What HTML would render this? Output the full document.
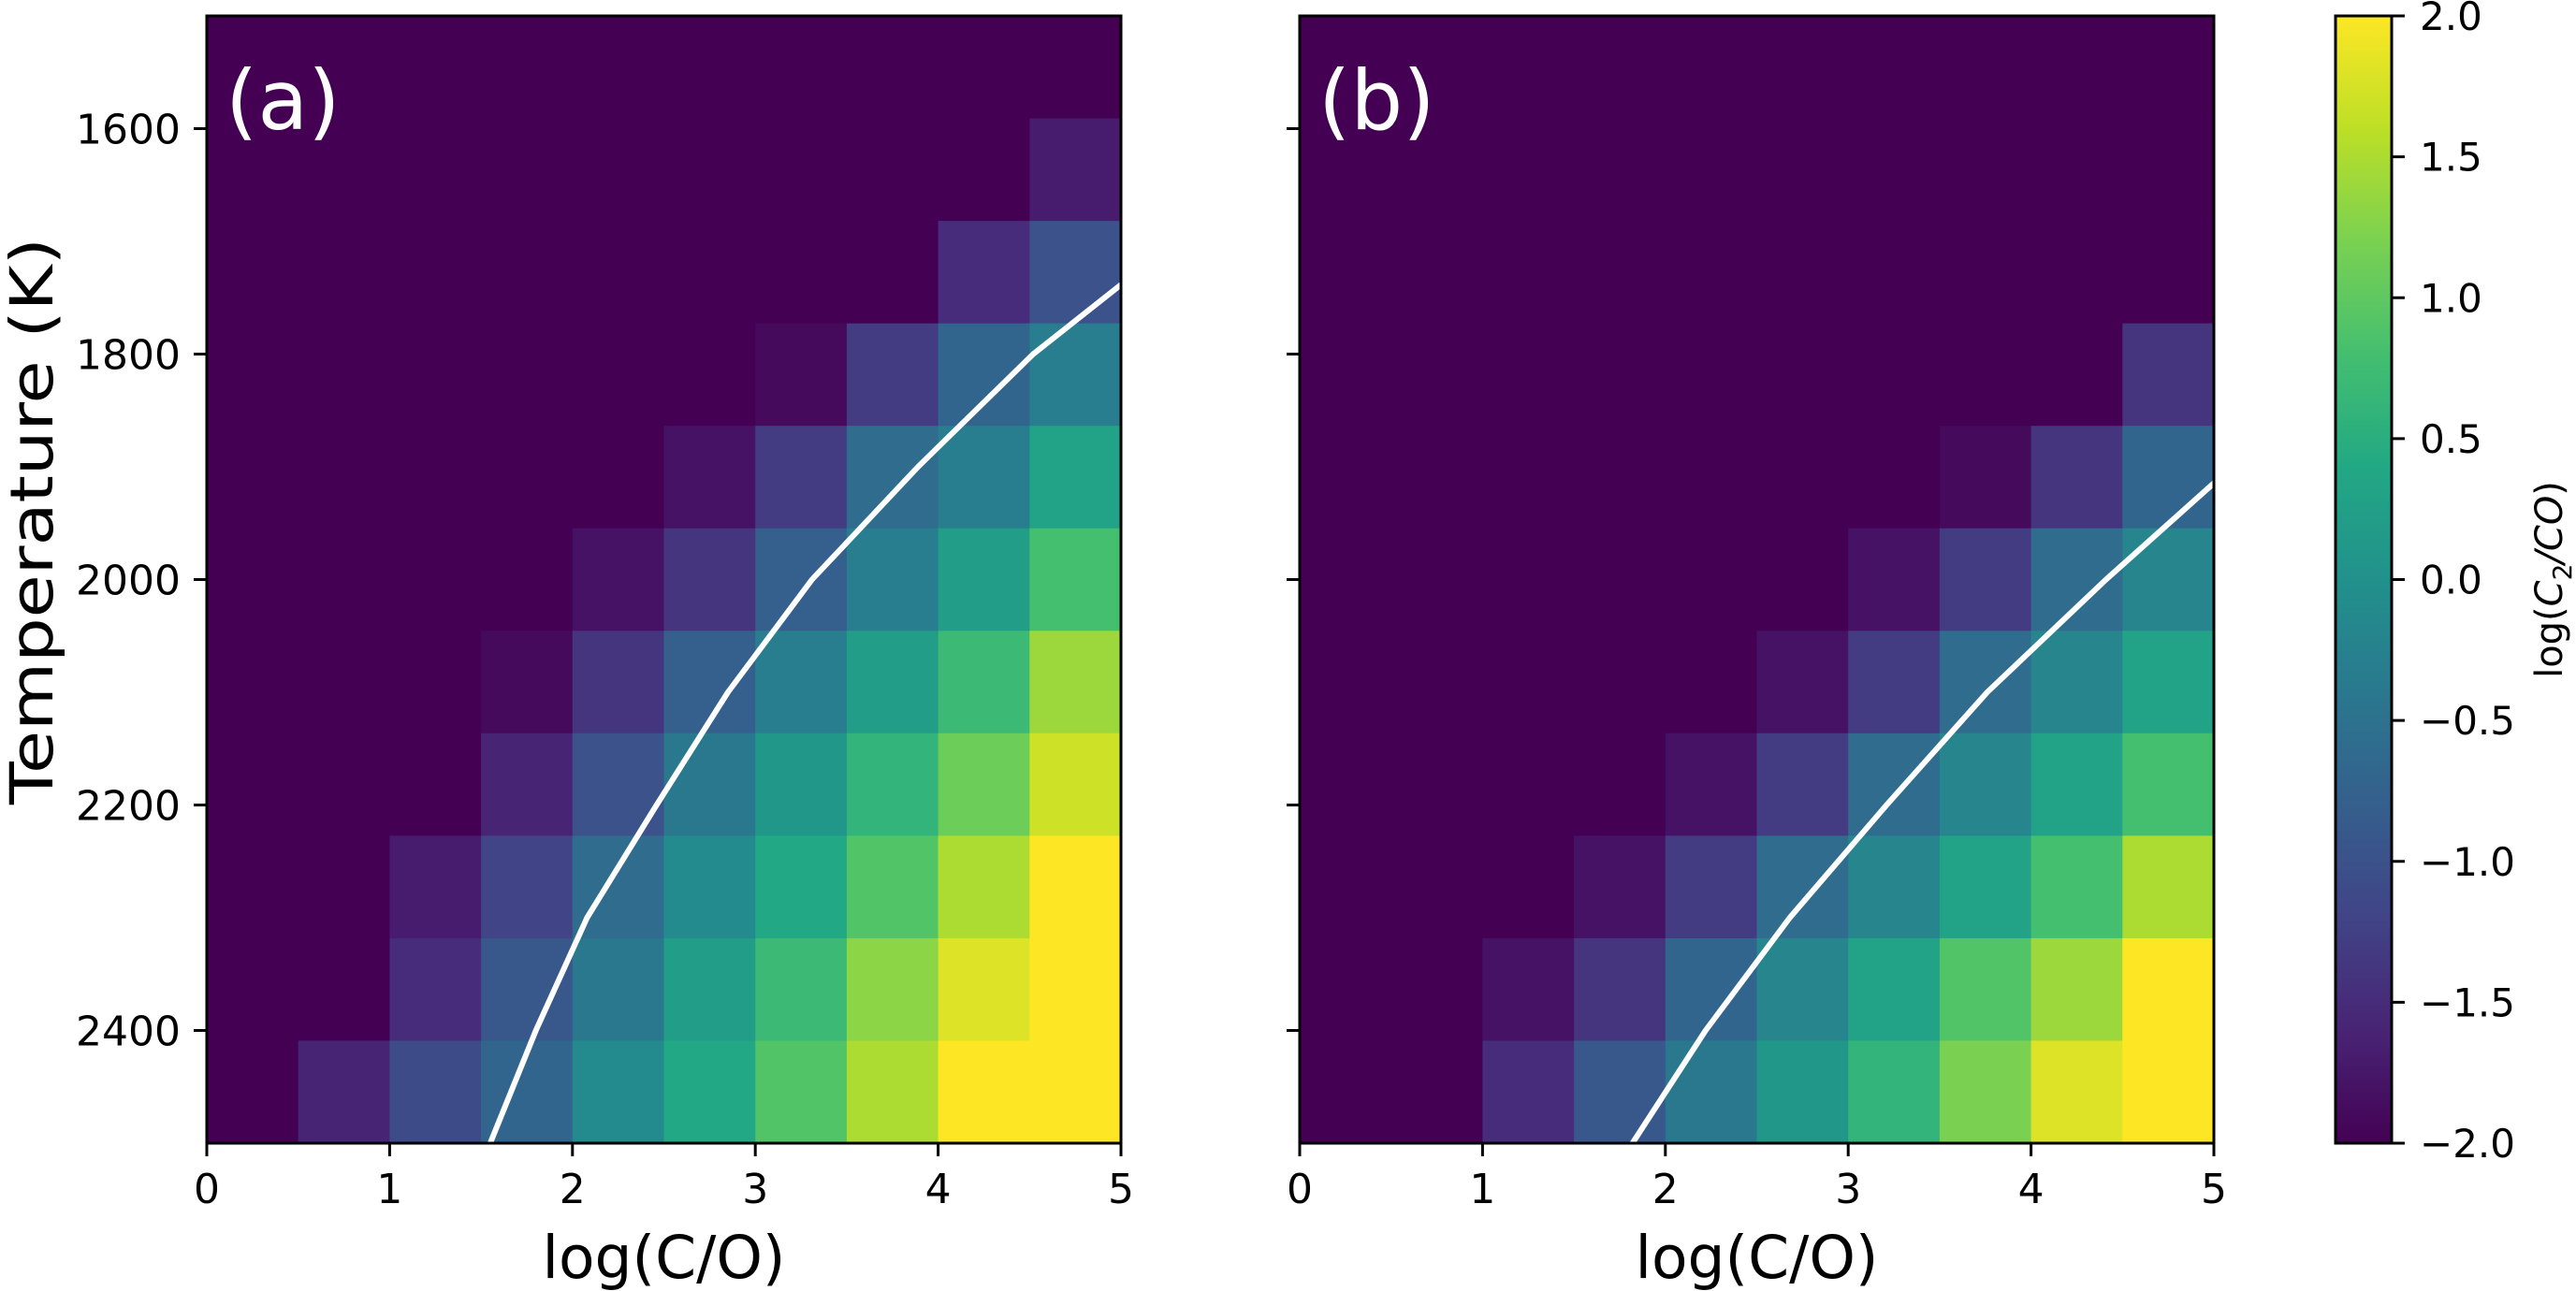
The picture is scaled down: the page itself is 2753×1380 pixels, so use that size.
<!DOCTYPE html>
<html><head><meta charset="utf-8"><style>
html,body{margin:0;padding:0;background:#fff;}
svg{display:block;font-family:"DejaVu Sans","Liberation Sans",sans-serif;}
</style></head><body>
<svg id="fig" width="2753" height="1380" viewBox="0 0 2753 1380" xmlns="http://www.w3.org/2000/svg">
<defs>
<linearGradient id="vir" x1="0" y1="1" x2="0" y2="0">
<stop offset="0" stop-color="#440154"/><stop offset="0.1" stop-color="#482475"/><stop offset="0.2" stop-color="#414487"/><stop offset="0.3" stop-color="#355f8d"/><stop offset="0.4" stop-color="#2a788e"/><stop offset="0.5" stop-color="#21918c"/><stop offset="0.6" stop-color="#22a884"/><stop offset="0.7" stop-color="#44bf70"/><stop offset="0.8" stop-color="#7ad151"/><stop offset="0.9" stop-color="#bddf26"/><stop offset="1" stop-color="#fde725"/>
</linearGradient>
<clipPath id="clipA"><rect x="221" y="17" width="977" height="1205"/></clipPath>
<clipPath id="clipB"><rect x="1389" y="17" width="977" height="1205"/></clipPath>
</defs>
<g id="panelA"></g>
<g id="panelB"></g>
<g id="cbar"></g>
</svg>
<script>
// heatmap values, rows top (T=1500) to bottom (T=2500), cols log(C/O) 0..5 step 0.5
const heatA = [
 [-2,-2,-2,-2,-2,-2,-2,-2,-2,-2],
 [-2,-2,-2,-2,-2,-2,-2,-2,-2,-1.7],
 [-2,-2,-2,-2,-2,-2,-2,-2,-1.5,-1.0],
 [-2,-2,-2,-2,-2,-2,-1.9,-1.3,-0.7,-0.3],
 [-2,-2,-2,-2,-2,-1.8,-1.3,-0.6,-0.3,0.3],
 [-2,-2,-2,-2,-1.8,-1.4,-0.8,-0.3,0.2,0.8],
 [-2,-2,-2,-1.9,-1.4,-0.8,-0.3,0.2,0.7,1.4],
 [-2,-2,-2,-1.6,-1.0,-0.4,0.1,0.6,1.1,1.7],
 [-2,-2,-1.7,-1.2,-0.6,-0.1,0.4,0.9,1.5,2.0],
 [-2,-2,-1.5,-0.9,-0.4,0.2,0.7,1.3,1.8,2.0],
 [-2,-1.6,-1.1,-0.7,-0.1,0.4,0.9,1.5,2.0,2.0]
];
const heatB = [
 [-2,-2,-2,-2,-2,-2,-2,-2,-2,-2],
 [-2,-2,-2,-2,-2,-2,-2,-2,-2,-2],
 [-2,-2,-2,-2,-2,-2,-2,-2,-2,-2],
 [-2,-2,-2,-2,-2,-2,-2,-2,-2,-1.4],
 [-2,-2,-2,-2,-2,-2,-2,-1.9,-1.4,-0.7],
 [-2,-2,-2,-2,-2,-2,-1.8,-1.3,-0.6,-0.2],
 [-2,-2,-2,-2,-2,-1.8,-1.3,-0.6,-0.2,0.3],
 [-2,-2,-2,-2,-1.8,-1.3,-0.6,-0.2,0.3,0.8],
 [-2,-2,-2,-1.8,-1.3,-0.6,-0.2,0.3,0.8,1.5],
 [-2,-2,-1.8,-1.4,-0.7,-0.2,0.3,0.9,1.4,2.0],
 [-2,-2,-1.5,-0.9,-0.4,0.1,0.6,1.2,1.8,2.0]
];
const lineAx = [5.3,4.52,3.89,3.31,2.85,2.46,2.08,1.80,1.55];
const lineAT = [1700,1800,1900,2000,2100,2200,2300,2400,2500];
const lineBx = [5.1,4.41,3.76,3.21,2.68,2.22,1.82];
const lineBT = [1900,2000,2100,2200,2300,2400,2500];
const xTicks = [0,1,2,3,4,5];
const yTicks = [1600,1800,2000,2200,2400];
const cTicks = [2.0,1.5,1.0,0.5,0.0,-0.5,-1.0,-1.5,-2.0];

const NS="http://www.w3.org/2000/svg";
const VIR=["#440154","#482475","#414487","#355f8d","#2a788e","#21918c","#22a884","#44bf70","#7ad151","#bddf26","#fde725"];
function hex(h){return [1,3,5].map(i=>parseInt(h.substr(i,2),16));}
function viridis(v){let t=(v+2)/4;t=Math.max(0,Math.min(1,t))*10;const i=Math.min(9,Math.floor(t)),f=t-i;const a=hex(VIR[i]),b=hex(VIR[i+1]);return "rgb("+a.map((c,k)=>Math.round(c+(b[k]-c)*f)).join(",")+")";}
function mk(tag,attrs,parent){const e=document.createElementNS(NS,tag);for(const k in attrs)e.setAttribute(k,attrs[k]);parent.appendChild(e);return e;}
const TOP=17,BOT=1222,W=977;
function yScale(T){return TOP+(T-1500)/1000*(BOT-TOP);}
function fmt(v){return (v<0?"\u2212":"")+Math.abs(v).toFixed(1);}

function panel(g,x0,heat,lx,lT,label,clip,showY){
  const xS=v=>x0+v/5*W;
  const nr=heat.length,rh=(BOT-TOP)/nr;
  heat.forEach((row,r)=>row.forEach((v,c)=>{
    const cell=mk("rect",{x:xS(c*0.5),y:TOP+r*rh,width:W/10+0.6,height:rh+0.6,fill:viridis(v)},g);
    
    
  }));
  const pts=lx.map((x,i)=>xS(x).toFixed(1)+","+yScale(lT[i]).toFixed(1)).join(" ");
  const pl=mk("polyline",{points:pts,fill:"none",stroke:"#fff","stroke-width":6,"stroke-linejoin":"round","clip-path":"url(#"+clip+")"},g);
  
  
  const fr=mk("rect",{x:x0,y:TOP,width:W,height:BOT-TOP,fill:"none",stroke:"#000","stroke-width":3},g);
  
  
  const pt=mk("text",{x:x0+20,y:138,fill:"#fff","font-size":88},g);pt.textContent=label;
  
  
  xTicks.forEach(t=>{
    mk("line",{x1:xS(t),x2:xS(t),y1:BOT,y2:BOT+14,stroke:"#000","stroke-width":3},g);
    const tx=mk("text",{x:xS(t),y:BOT+64,"text-anchor":"middle","font-size":44},g);tx.textContent=t;
    
    
  });
  const xl=mk("text",{x:x0+W/2,y:1366,"text-anchor":"middle","font-size":63},g);xl.textContent="log(C/O)";
  
  
  yTicks.forEach(t=>{
    mk("line",{x1:x0-14,x2:x0,y1:yScale(t),y2:yScale(t),stroke:"#000","stroke-width":3},g);
    if(showY){const ty=mk("text",{x:x0-28,y:yScale(t)+16,"text-anchor":"end","font-size":44},g);ty.textContent=t;
      
      }
  });
  if(showY){const yl=mk("text",{x:0,y:0,"text-anchor":"middle","font-size":63,textLength:606,lengthAdjust:"spacingAndGlyphs",transform:"translate(56,557) rotate(-90)"},g);yl.textContent="Temperature (K)";
    
    }
}
panel(document.getElementById("panelA"),221,heatA,lineAx,lineAT,"(a)","clipA",true);
panel(document.getElementById("panelB"),1389,heatB,lineBx,lineBT,"(b)","clipB",false);

const cb=document.getElementById("cbar");
const CX=2496,CW=60;
const cr=mk("rect",{x:CX,y:TOP,width:CW,height:BOT-TOP,fill:"url(#vir)",stroke:"#000","stroke-width":3},cb);


cTicks.forEach(v=>{
  const y=TOP+(2-v)/4*(BOT-TOP);
  mk("line",{x1:CX+CW,x2:CX+CW+14,y1:y,y2:y,stroke:"#000","stroke-width":3},cb);
  const t=mk("text",{x:CX+CW+30,y:y+15,"font-size":42},cb);t.textContent=fmt(v);
  
  
});
const ct=mk("text",{x:0,y:0,"text-anchor":"middle","font-size":40,transform:"translate(2738,"+((TOP+BOT)/2)+") rotate(-90)"},cb);
ct.innerHTML='log(<tspan font-style="italic">C</tspan><tspan font-size="28" dy="10">2</tspan><tspan dy="-10" font-style="italic">/CO</tspan>)';


</script>
</body></html>
